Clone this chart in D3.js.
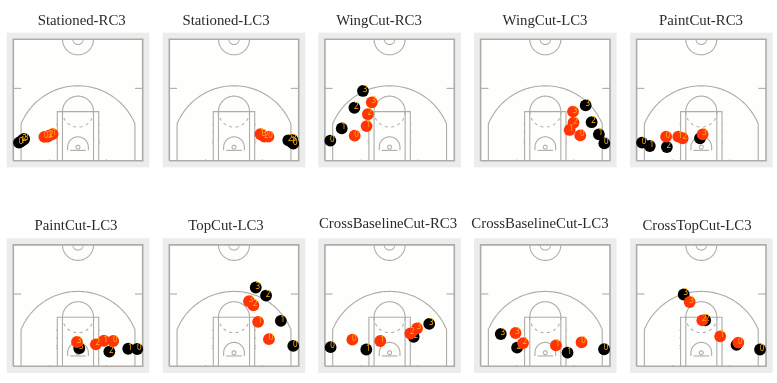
<!DOCTYPE html>
<html>
<head>
<meta charset="utf-8">
<script src="https://cdn.jsdelivr.net/npm/d3@7"></script>
<style>
  html, body { margin: 0; background: #fff; overflow: hidden; }
  svg { display: block; }
  .title { font-family: "Liberation Serif", serif; font-size: 14.8px; fill: #2a2a2a; text-anchor: middle; }
  .num { font-family: "Noto Sans", sans-serif; font-size: 8px; fill: #ffae12; text-anchor: middle; }
  .line { fill: none; stroke: #aeaca9; }
</style>
</head>
<body>
<div id="chart-container"></div>
<script>
// Plays, left to right then top to bottom
const plays = [
  "Stationed-RC3", "Stationed-LC3", "WingCut-RC3", "WingCut-LC3", "PaintCut-RC3",
  "PaintCut-LC3", "TopCut-LC3", "CrossBaselineCut-RC3", "CrossBaselineCut-LC3", "CrossTopCut-LC3"
];

// Positions in feet: x from the centre of the court, y from the baseline
// Frames 0 to 3 for each play
const blackX = [
  [-22.8, -22.1, -21.4, -20.8], [22.9, 22.0, 21.0, 22.5], [-22.9, -18.5, -13.6, -10.3], [22.8, 20.7, 17.9, 15.6], [-22.9, -19.9, -13.3, -0.5],
  [22.9, 19.4, 12.1, 0.5], [22.9, 18.1, 12.4, 8.4], [-22.8, -9.0, 9.3, 15.3], [22.7, 8.6, -10.9, -17.2], [22.7, 13.6, 1.5, -6.8]
];
const blackY = [
  [7.0, 7.4, 8.0, 8.4], [6.6, 7.4, 7.9, 8.1], [7.8, 12.5, 20.5, 27.0], [6.7, 10.2, 14.9, 21.4], [7.0, 5.7, 5.3, 8.7],
  [6.7, 6.8, 5.7, 7.0], [7.9, 17.6, 27.4, 30.5], [7.4, 6.5, 11.4, 16.4], [6.6, 5.3, 7.2, 12.5], [6.5, 8.3, 17.8, 27.8]
];
const redX = [
  [-13.0, -9.8, -11.2, -11.7], [13.3, 10.2, 11.7, 10.9], [-13.5, -8.9, -8.4, -6.9], [13.5, 9.4, 10.9, 10.7], [-13.6, -8.9, -7.2, 0.5],
  [13.6, 10.0, 6.9, -0.4], [13.5, 9.3, 7.5, 5.8], [-14.4, -3.6, 8.0, 10.6], [14.0, 4.1, -8.6, -11.5], [14.3, 7.3, 0.4, -4.5]
];
const redY = [
  [9.2, 10.3, 9.7, 9.3], [9.3, 10.3, 9.3, 9.9], [9.7, 13.4, 18.0, 22.6], [9.8, 11.9, 14.7, 19.0], [9.3, 9.3, 8.7, 10.2],
  [9.8, 9.9, 8.5, 9.4], [10.5, 17.2, 23.6, 25.2], [10.3, 9.8, 12.7, 14.7], [9.3, 8.1, 9.0, 12.9], [9.2, 11.6, 17.8, 24.9]
];

const width = 777;
const height = 383;

// Layout of the small courts
const panelLeft = [6.7, 162.7, 318.3, 474, 630];
const panelTop = [32.7, 238.3];
const titleMid = [81.7, 226, 379, 545, 701, 76, 226, 388, 540, 697];
const titleBase = [25, 25, 25, 25, 25, 230, 230, 228, 228, 230];

const svg = d3
  .select("#chart-container")
  .append("svg")
  .attr("width", width)
  .attr("height", height)
  .style("filter", "blur(0.35px)");

function arcPoints(cx, cy, r, from, to) {
  return d3.range(0, 61).map((i) => {
    const a = ((from + ((to - from) * i) / 60) * Math.PI) / 180;
    return [cx + r * Math.cos(a), cy + r * Math.sin(a)];
  });
}

function drawCourt(g, x, y) {
  const path = d3.line().x((d) => x(d[0])).y((d) => y(d[1]));
  const add = (pts, w, dash) =>
    g.append("path")
      .attr("class", "line")
      .attr("d", path(pts))
      .attr("stroke-width", w || 1.1)
      .attr("stroke-dasharray", dash || null);

  // Outline
  add([[-25, 0], [25, 0], [25, 47], [-25, 47], [-25, 0]], 1.6);
  // Half court circles
  add(arcPoints(0, 47, 6, 180, 360));
  add(arcPoints(0, 47, 2, 180, 360));
  // Side ticks and baseline ticks
  add([[-25, 28], [-22, 28]]);
  add([[25, 28], [22, 28]]);
  add([[-11, 0], [-11, 0.5]]);
  add([[11, 0], [11, 0.5]]);
  // Three point line
  const corner = (Math.atan2(8.95, 22) * 180) / Math.PI;
  add([[-22, 0], [-22, 14.2]].concat(arcPoints(0, 5.25, 23.75, 180 - corner, corner)).concat([[22, 14.2], [22, 0]]));
  // Paint
  add([[-8, 0], [-8, 19], [8, 19], [8, 0]]);
  add([[-6, 0], [-6, 19]]);
  add([[6, 0], [6, 19]]);
  add(arcPoints(0, 19, 6, 0, 180));
  add(arcPoints(0, 19, 6, 180, 360), 1.1, "3,3.5");
  // Lane marks
  [7, 8, 11, 14].forEach((m) => {
    add([[-8.4, m], [-8.1, m]]);
    add([[8.4, m], [8.1, m]]);
  });
  // Backboard, restricted area, hoop
  add([[-3, 4], [3, 4]]);
  add([[-4, 4]].concat(arcPoints(0, 5.25, 4, 180, 0)).concat([[4, 4]]));
  add(arcPoints(0, 5.25, 0.75, 0, 360));
}

function drawSeries(g, x, y, xs, ys, color) {
  const pts = xs.map((v, i) => ({ x: v, y: ys[i], frame: i }));

  g.selectAll(null)
    .data(pts)
    .enter()
    .append("circle")
    .attr("cx", (d) => x(d.x))
    .attr("cy", (d) => y(d.y))
    .attr("r", 5.9)
    .attr("fill", color);

  g.selectAll(null)
    .data(pts)
    .enter()
    .append("text")
    .attr("class", "num")
    .attr("x", (d) => x(d.x) + 2)
    .attr("y", (d) => y(d.y) + 1)
    .text((d) => d.frame);
}

plays.forEach((name, i) => {
  const left = panelLeft[i % 5];
  const top = panelTop[Math.floor(i / 5)];

  const x = d3.scaleLinear().domain([-25, 25]).range([left + 6.6, left + 136]);
  const y = d3.scaleLinear().domain([0, 47]).range([top + 128, top + 6.6]);

  const g = svg.append("g");

  g.append("rect")
    .attr("x", left)
    .attr("y", top)
    .attr("width", 142.6)
    .attr("height", 134.6)
    .attr("fill", "#ececec");
  g.append("rect")
    .attr("x", x(-25))
    .attr("y", y(47))
    .attr("width", x(25) - x(-25))
    .attr("height", y(0) - y(47))
    .attr("fill", "#fefefc");

  drawCourt(g, x, y);
  drawSeries(g, x, y, blackX[i], blackY[i], "#000");
  drawSeries(g, x, y, redX[i], redY[i], "#ff3505");

  svg.append("text")
    .attr("class", "title")
    .attr("x", titleMid[i])
    .attr("y", titleBase[i])
    .text(name);
});
</script>
</body>
</html>
